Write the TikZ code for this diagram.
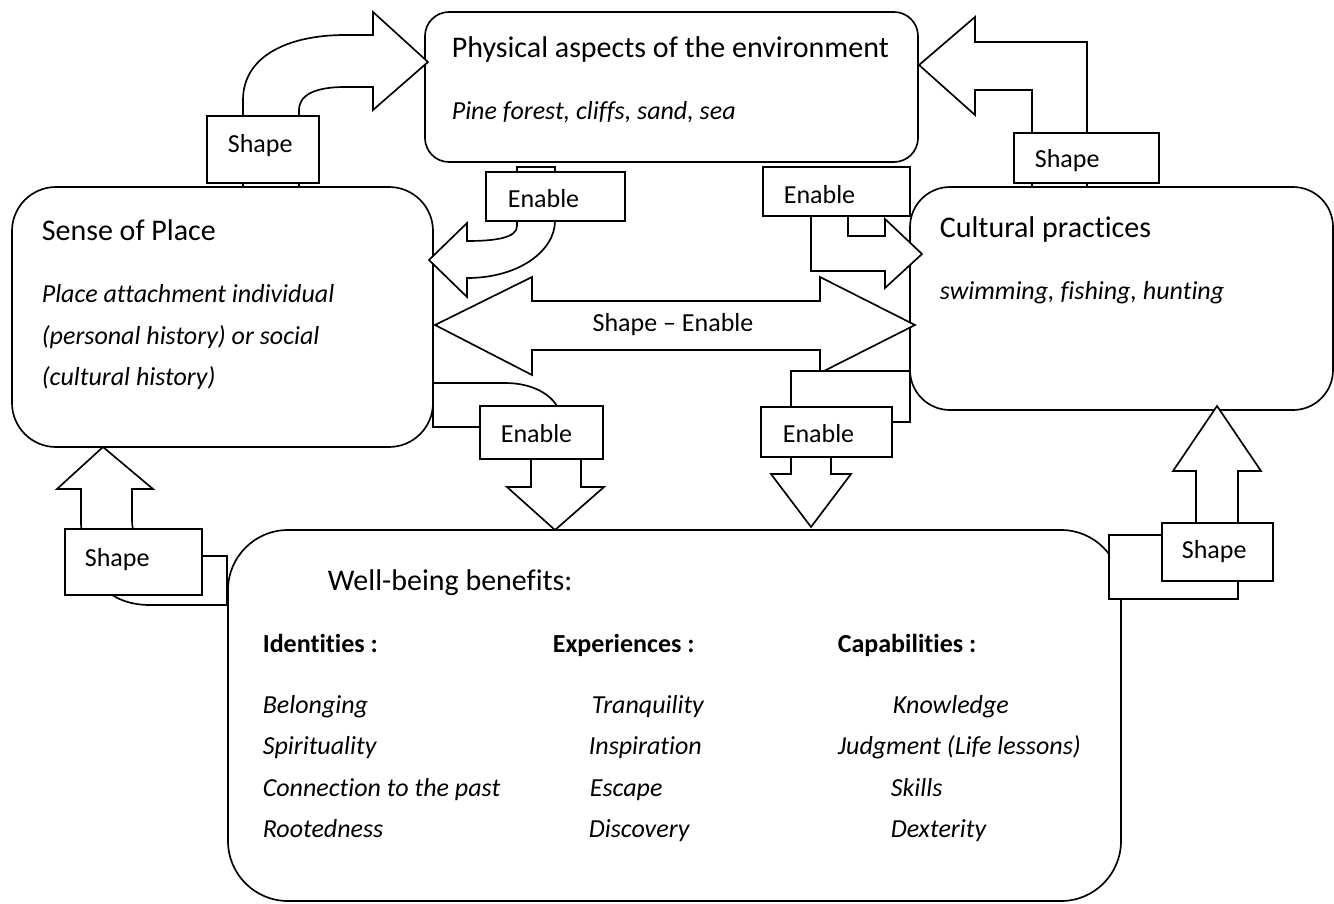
\documentclass[tikz,border=0pt]{standalone}
\usepackage{fontspec}
\setmainfont{Carlito}[Ligatures={NoCommon}]
\newcommand\mkbox[6]{\node[#6, minimum width={(#4-#2)*0.75pt}, minimum height={(#5-#3)*0.75pt}] (#1) at ({(#2+#4)/2},{(#3+#5)/2}) {};}
\begin{document}
\begin{tikzpicture}[x=0.75pt,y=-0.75pt, line width=1.25pt, line join=miter,
  rbox/.style={draw, fill=white, inner sep=0, outer sep=0},
  lbox/.style={draw, fill=white, inner sep=0, outer sep=0},
  barrow/.style={draw, fill=white},
  ttl/.style={inner sep=0, anchor=base west, font=\fontsize{22.5pt}{27pt}\selectfont},
  txt/.style={inner sep=0, anchor=base west, font=\fontsize{19.5pt}{23pt}\selectfont},
  itx/.style={txt, font=\fontsize{19.5pt}{23pt}\selectfont\itshape},
  btx/.style={txt, font=\fontsize{19.5pt}{23pt}\selectfont\bfseries}]
\fill[white] (0,0) rectangle (1334,903);
\useasboundingbox (0,0) rectangle (1334,903);

% main boxes
\mkbox{phys}{425}{12}{918}{162}{rbox, rounded corners=18pt}
\mkbox{sense}{12}{187}{433}{447}{rbox, rounded corners=33pt}
\mkbox{cult}{910}{187}{1333}{410}{rbox, rounded corners=30pt}
\mkbox{well}{228}{530}{1121}{901}{rbox, rounded corners=45pt}

% block arrows
% A: Shape (top-left) -> Physical
\draw[barrow] (243,187) -- (243,100) .. controls (243,55) and (290,35) .. (345,35) -- (373,35) -- (373,12) -- (428,62) -- (373,110) -- (373,87) -- (345,87) .. controls (315,87) and (299,95) .. (299,110) -- (299,187) -- cycle;
% B: Shape (top-right) -> Physical
\draw[barrow] (1087,187) -- (1087,42) -- (975,42) -- (975,17) -- (919,65) -- (975,115) -- (975,90) -- (1032,90) -- (1032,187) -- cycle;
% C: Physical -> Sense of Place (Enable)
\draw[barrow] (517,167) -- (517,226) .. controls (517,238) and (495,241) .. (467,241) -- (467,223) -- (429,260) -- (467,297) -- (467,278) .. controls (520,278) and (555,250) .. (555,221) -- (555,167) -- cycle;
% D: Physical -> Cultural practices (Enable)
\draw[barrow] (811,180) -- (811,271) -- (885,271) -- (885,288) -- (922,254) -- (885,219) -- (885,236) -- (848,236) -- (848,180) -- cycle;
% E: double arrow Shape - Enable
\draw[barrow] (435,325) -- (532,277) -- (532,301) -- (820,301) -- (820,277) -- (915,325) -- (820,373) -- (820,350) -- (532,350) -- (532,375) -- cycle;
% F: Sense of Place -> Well-being (Enable)
\draw[barrow] (433,383) -- (505,383) .. controls (532,383) and (551,394) .. (558,408) -- (581,440) -- (581,487) -- (604,487) -- (555,530) -- (507,487) -- (531,487) -- (531,440) -- (500,427) -- (433,427) -- cycle;
% G: Cultural practices -> Well-being (Enable)
\draw[barrow] (910,371) -- (791,371) -- (791,474) -- (771,474) -- (811,527) -- (851,474) -- (831,474) -- (831,422) -- (910,422) -- cycle;
% H: Well-being -> Sense of Place (Shape)
\draw[barrow] (227,556) -- (190,556) .. controls (150,556) and (132,545) .. (132,520) -- (132,489) -- (153,489) -- (103,447) -- (57,489) -- (81,489) -- (81,520) .. controls (81,580) and (110,605) .. (150,605) -- (227,605) -- cycle;
% I: Well-being -> Cultural practices (Shape)
\draw[barrow] (1109,535) -- (1196,535) -- (1196,471) -- (1173,471) -- (1217,406) -- (1261,471) -- (1238,471) -- (1238,599) -- (1109,599) -- cycle;

% label boxes
\mkbox{shTL}{207}{116}{319}{183}{lbox}
\mkbox{shTR}{1014}{133}{1159}{183}{lbox}
\mkbox{enUL}{486}{172}{625}{221}{lbox}
\mkbox{enUR}{763}{167}{910}{216}{lbox}
\mkbox{enLL}{480}{406}{603}{459}{lbox}
\mkbox{enLR}{761}{407}{892}{457}{lbox}
\mkbox{shBL}{65}{529}{202}{595}{lbox}
\mkbox{shBR}{1162}{523}{1273}{581}{lbox}

\node[txt] (shTLt) at (227,152) {Shape};
\node[txt] (shTRt) at (1034,167) {Shape};
\node[txt] (enULt) at (507,207) {Enable};
\node[txt] (enURt) at (783,203) {Enable};
\node[txt] (enLLt) at (500,442) {Enable};
\node[txt] (enLRt) at (782,442) {Enable};
\node[txt] (shBLt) at (84,566) {Shape};
\node[txt] (shBRt) at (1181,558) {Shape};
\node[txt, anchor=center] (seT) at (673,325) {Shape – Enable};

% box texts
\node[ttl] (physT) at (451,57) {Physical aspects of the environment};
\node[itx] (physS) at (451,119) {Pine forest, cliffs, sand, sea};
\node[ttl] (senseT) at (41,240) {Sense of Place};
\node[itx] (sense1) at (41,302) {Place attachment individual};
\node[itx] (sense2) at (41,344) {(personal history) or social};
\node[itx] (sense3) at (41,385) {(cultural history)};
\node[ttl] (cultT) at (939,237) {Cultural practices};
\node[itx] (cultS) at (939,299) {swimming, fishing, hunting};
\node[ttl] (wellT) at (327,590) {Well-being benefits:};

\node[btx] (h1) at (262,652) {Identities :};
\node[btx] (h2) at (552,652) {Experiences :};
\node[btx] (h3) at (837,652) {Capabilities :};

\node[itx] (a1) at (262,713) {Belonging};
\node[itx] (a2) at (262,754) {Spirituality};
\node[itx] (a3) at (262,796) {Connection to the past};
\node[itx] (a4) at (262,837) {Rootedness};
\node[itx] (b1) at (591,713) {Tranquility};
\node[itx] (b2) at (588,754) {Inspiration};
\node[itx] (b3) at (589,796) {Escape};
\node[itx] (b4) at (588,837) {Discovery};
\node[itx] (c1) at (892,713) {Knowledge};
\node[itx] (c2) at (837,754) {Judgment (Life lessons)};
\node[itx] (c3) at (890,796) {Skills};
\node[itx] (c4) at (890,837) {Dexterity};
\end{tikzpicture}
\end{document}
